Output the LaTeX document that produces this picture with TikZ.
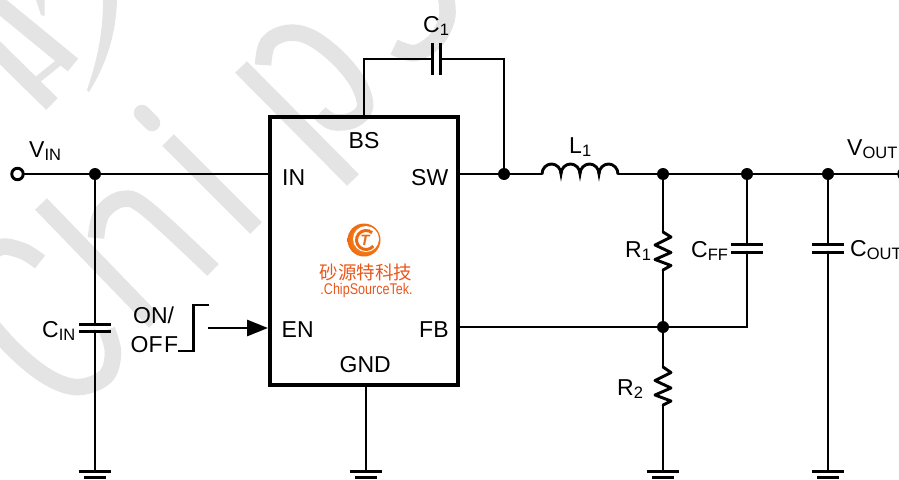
\documentclass[tikz,border=0pt]{standalone}
\usepackage{fontspec}
\setmainfont{Liberation Sans}
\newfontfamily\cjkfont{Noto Sans CJK SC}
\usetikzlibrary{arrows.meta}
\definecolor{wm}{HTML}{E4E4E4}
\definecolor{logoor}{HTML}{EE6A12}
\definecolor{logolt}{HTML}{F8A51E}
\definecolor{logotxt}{HTML}{E9571C}
\newcommand{\lblsub}[2]{#1\raisebox{-3.2pt}{\fontsize{16.5}{18}\selectfont #2}}
\tikzset{
  wire/.style={line width=2.9pt,line cap=round,line join=miter},
  plate/.style={line width=3pt},
  junct/.style={circle,fill=black,inner sep=0pt,minimum size=12pt},
  term/.style={circle,draw=black,fill=white,line width=2.9pt,inner sep=0pt,minimum size=11.5pt},
  chipbox/.style={draw=black,line width=4pt,fill=none,inner sep=0pt,minimum width=188.5pt,minimum height=268pt},
  lbl/.style={anchor=base west,inner sep=0pt,font=\fontsize{23}{25}\selectfont},
  wmark/.style={draw=wm,line width=16.5pt,line cap=butt},
}
\begin{document}
\begin{tikzpicture}[x=1pt,y=-1pt]
\useasboundingbox (0,0) rectangle (899,479);
\clip (0,0) rectangle (899,479);
% watermark
\draw[wmark] (-10,-3) -- (73,65);
\draw[wmark] (-10,43) -- (52,104);
\draw[draw=wm,line width=7pt] (37,80) -- (62,60);
\fill[wm] (103,0) -- (117,0) .. controls (116,35) and (106,65) .. (89,92) -- (87,90) .. controls (97,60) and (103,35) .. (103,0) -- cycle;
\fill[wm] (36,0) -- (44.5,0) -- (44.5,16) -- (41,15) -- cycle;
\draw[wmark,line cap=round] (142,113) -- (152,123);
\draw[wmark] (168,140) -- (256,228);
\draw[wmark] (241,67) -- (353,180);
\draw[wmark] plot[smooth,tension=.6] coordinates {(263,65) (268,43) (287,33) (310,37) (337,57) (358,83) (365,107) (353,120) (333,122) (320,113)};
\draw[wmark] plot[smooth,tension=.6] coordinates {(446,-3) (447,18) (436,40) (415,53) (394,47)};
\draw[wmark] (41,204) -- (155,322);
\draw[wmark] plot[smooth,tension=.6] coordinates {(96,238) (102,213) (123,199) (147,209) (213,270)};
\draw[wmark] plot[smooth,tension=.6] coordinates {(40,262) (20,250) (-5,250) (-30,290) (0,335) (40,372) (75,387) (105,377) (113,353) (107,330)};
% chip
\node[chipbox] (chip) at (364,250.5) {};
% coordinates
\coordinate (pinIN) at (269,174);
\coordinate (pinSW) at (459,174);
\coordinate (pinBS) at (364,116);
\coordinate (pinFB) at (459,327);
\coordinate (pinEN) at (268,328);
\coordinate (pinGND) at (366,385);
\node[term] (vin) at (17.5,174) {};
\node[term] (vout) at (904.5,174) {};
\node[junct] (j1) at (95,174) {};
\node[junct] (jsw) at (504,174) {};
\node[junct] (jr) at (663,174) {};
\node[junct] (jc) at (747,174) {};
\node[junct] (jo) at (828,174) {};
\node[junct] (jfb) at (663,327) {};
\coordinate (gcin) at (95,471);
\coordinate (ggnd) at (366,471);
\coordinate (gr) at (663,471);
\coordinate (go) at (828,471);
\coordinate (cffb) at (747,327);
\coordinate (ctl) at (364,59);
\coordinate (ctr) at (504,59);
\coordinate (c1a) at (432,59);
\coordinate (c1b) at (440,59);
\coordinate (la) at (542,174);
\coordinate (lb) at (618,174);
\coordinate (r1t) at (663,232);
\coordinate (r1b) at (663,270);
\coordinate (r2t) at (663,367);
\coordinate (r2b) at (663,405);
\coordinate (cina) at (95,324.5);
\coordinate (cinb) at (95,331);
\coordinate (cffa) at (747,244.5);
\coordinate (cffc) at (747,252);
\coordinate (couta) at (828,244.5);
\coordinate (coutb) at (828,252);
\coordinate (arr) at (208,328);
% wires
\draw[wire] (vin) -- (j1) -- (pinIN);
\draw[wire] (pinSW) -- (jsw) -- (la);
\draw[wire] (lb) -- (jr) -- (jc) -- (jo) -- (vout);
\draw[wire,line cap=butt] (pinBS) -- (ctl) -- (c1a);
\draw[wire,line cap=butt] (c1b) -- (ctr) -- (jsw);
\draw[wire] (pinFB) -- (jfb) -- (cffb) -- (cffc);
\draw[wire] (jc) -- (cffa);
\draw[wire] (j1) -- (cina);
\draw[wire] (cinb) -- (gcin);
\draw[wire] (jo) -- (couta);
\draw[wire] (coutb) -- (go);
\draw[wire] (pinGND) -- (ggnd);
\draw[wire] (jr) -- (r1t);
\draw[wire] (r1b) -- (jfb) -- (r2t);
\draw[wire] (r2b) -- (gr);
% resistors
\draw[wire,line join=round] (r1t) -- ++(8,5) -- ++(-16,8) -- ++(16,7.5) -- ++(-16,7) -- ++(16,6) -- (r1b);
\draw[wire,line join=round] (r2t) -- ++(8,5.5) -- ++(-16,8) -- ++(16,7.5) -- ++(-16,7) -- ++(16,6) -- (r2b);
% inductor
\draw[wire,line cap=butt] (la) arc[start angle=180,end angle=0,x radius=9.5,y radius=-10]
  arc[start angle=180,end angle=0,x radius=9.5,y radius=-10]
  arc[start angle=180,end angle=0,x radius=9.5,y radius=-10]
  arc[start angle=180,end angle=0,x radius=9.5,y radius=-10];
% capacitors
\draw[plate] (c1a) ++(0,-16) -- ++(0,32);
\draw[plate] (c1b) ++(0,-16) -- ++(0,32);
\foreach \c in {cina,cinb,cffa,cffc,couta,coutb} \draw[plate] (\c) ++(-16,0) -- ++(32,0);
% grounds
\foreach \g in {gcin,ggnd,gr,go} {
  \draw[plate] (\g) ++(-16,0) -- ++(32,0);
  \draw[plate] (\g) ++(-11,6) -- ++(22,0);
}
% enable
\draw[wire,line cap=butt] (178,351) -- (193.5,351) -- (193.5,305) -- (209,305);
\draw[wire,line cap=butt,-{Triangle[length=21pt,width=16pt]}] (arr) -- (pinEN);
% labels
\node[lbl] (tvin) at (29,157) {\lblsub{V}{IN}};
\node[lbl] (tin) at (282,185.5) {IN};
\node[lbl] (tbs) at (348.5,148) {BS};
\node[lbl] (tsw) at (411,185.5) {SW};
\node[lbl] (ten) at (281.5,337) {EN};
\node[lbl] (tfb) at (419,337) {FB};
\node[lbl] (tgnd) at (339.5,372) {GND};
\node[lbl] (tc1) at (423,32) {\lblsub{C}{1}};
\node[lbl] (tl1) at (569,153) {\lblsub{L}{1}};
\node[lbl] (tr1) at (625,257) {\lblsub{R}{1}};
\node[lbl] (tcff) at (691,257) {\lblsub{C}{FF}};
\node[lbl] (tcout) at (850,256) {\lblsub{C}{OUT}};
\node[lbl] (tvout) at (847,155) {\lblsub{V}{OUT}};
\node[lbl] (tr2) at (617,395) {\lblsub{R}{2}};
\node[lbl] (tcin) at (42,337) {\lblsub{C}{IN}};
\node[lbl] (ton) at (133,323) {ON/};
\node[lbl] (toff) at (130.5,352) {OF\kern1.5pt F};
% logo
\shade[inner color=logolt,outer color=logoor] (364,240) circle (16.5);
\fill[white] (366,239) circle (13);
\draw[logoor,line width=3pt] (366,240) ++(40:9.5) arc[start angle=40,end angle=310,radius=9.5];
\node[inner sep=0pt,text=logoor,font=\fontsize{15}{16}\selectfont\bfseries\itshape] (logot) at (365,240) {T};
\node[inner sep=0pt,text=logotxt,font=\cjkfont\fontsize{18.5}{20}\selectfont] (cn) at (366,272) {砂源特科技};
\node[inner sep=0pt,text=logotxt,anchor=base] (en) at (366.5,294) {\scalebox{.81}[1]{\fontsize{15.5}{17}\selectfont .ChipSourceTek.}};
\end{tikzpicture}
\end{document}
